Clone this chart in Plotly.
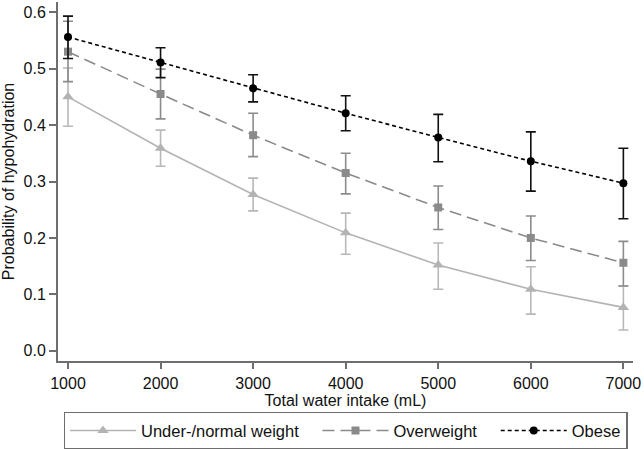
import plotly.graph_objects as go

intake = [1000, 2000, 3000, 4000, 5000, 6000, 7000]

under = [0.450, 0.359, 0.277, 0.209, 0.152, 0.109, 0.077]
under_hi = [0.501, 0.391, 0.306, 0.244, 0.191, 0.149, 0.115]
under_lo = [0.398, 0.327, 0.248, 0.171, 0.109, 0.065, 0.037]

over = [0.530, 0.455, 0.382, 0.315, 0.254, 0.200, 0.156]
over_hi = [0.584, 0.499, 0.421, 0.350, 0.292, 0.239, 0.194]
over_lo = [0.477, 0.411, 0.344, 0.278, 0.215, 0.160, 0.115]

obese = [0.556, 0.511, 0.465, 0.421, 0.378, 0.336, 0.297]
obese_hi = [0.593, 0.537, 0.489, 0.452, 0.419, 0.388, 0.359]
obese_lo = [0.518, 0.484, 0.441, 0.390, 0.335, 0.283, 0.234]

x_ticks = [1000, 2000, 3000, 4000, 5000, 6000, 7000]
y_ticks = [0.0, 0.1, 0.2, 0.3, 0.4, 0.5, 0.6]

pad = "\u00a0\u00a0\u00a0"
series = [
    ("Under-/normal weight" + pad, under, under_hi, under_lo, "#b3b3b3", "#b8b8b8", "solid", "triangle-up", 10),
    ("Overweight" + pad, over, over_hi, over_lo, "#8a8a8a", "#8c8c8c", "12px,6px", "square", 8),
    ("Obese", obese, obese_hi, obese_lo, "#000000", "#111111", "4px,3px", "circle", 8),
]

fig = go.Figure()
for name, y, hi, lo, col, ecol, dash, sym, ms in series:
    fig.add_trace(go.Scatter(
        x=intake, y=y, name=name, mode="lines+markers",
        line=dict(color=col, width=1.6, dash=dash),
        marker=dict(symbol=sym, size=ms, color=col),
        error_y=dict(type="data", symmetric=False,
                     array=[h - v for h, v in zip(hi, y)],
                     arrayminus=[v - l for l, v in zip(lo, y)],
                     color=ecol, thickness=1.6, width=5),
    ))

axis_col = "#6e6e6e"
fig.update_layout(
    width=644, height=449,
    margin=dict(l=58, r=11, t=2, b=88),
    paper_bgcolor="white", plot_bgcolor="white",
    font=dict(family="Liberation Sans, Arial, sans-serif", size=16, color="#111111"),
    showlegend=True,
    legend=dict(orientation="h", x=0.5, xanchor="center", xref="paper",
                y=0.083, yanchor="top", yref="container",
                bordercolor=axis_col, borderwidth=1.5, font=dict(size=16.5),
                itemwidth=66, traceorder="normal"),
    xaxis=dict(range=[892, 7104], tickvals=x_ticks, ticks="outside", ticklen=6,
               tickcolor=axis_col, tickwidth=1.5, showline=True, linecolor=axis_col,
               linewidth=2, showgrid=False, zeroline=False, ticklabelstandoff=1,
               automargin=False,
               title=dict(text="Total water intake (mL)", standoff=4, font=dict(size=16))),
    yaxis=dict(range=[-0.018, 0.618], tickvals=y_ticks, tickformat=".1f", ticks="outside",
               ticklen=7, tickcolor=axis_col, tickwidth=1.5, showline=True, linecolor=axis_col,
               linewidth=2, showgrid=False, zeroline=False, automargin=False,
               title=dict(text="Probability of hypohydration", standoff=6, font=dict(size=16))),
)

fig.write_html("out.html", config={"displayModeBar": False},
               post_script="document.body.style.margin='0';document.body.style.overflow='hidden';")
